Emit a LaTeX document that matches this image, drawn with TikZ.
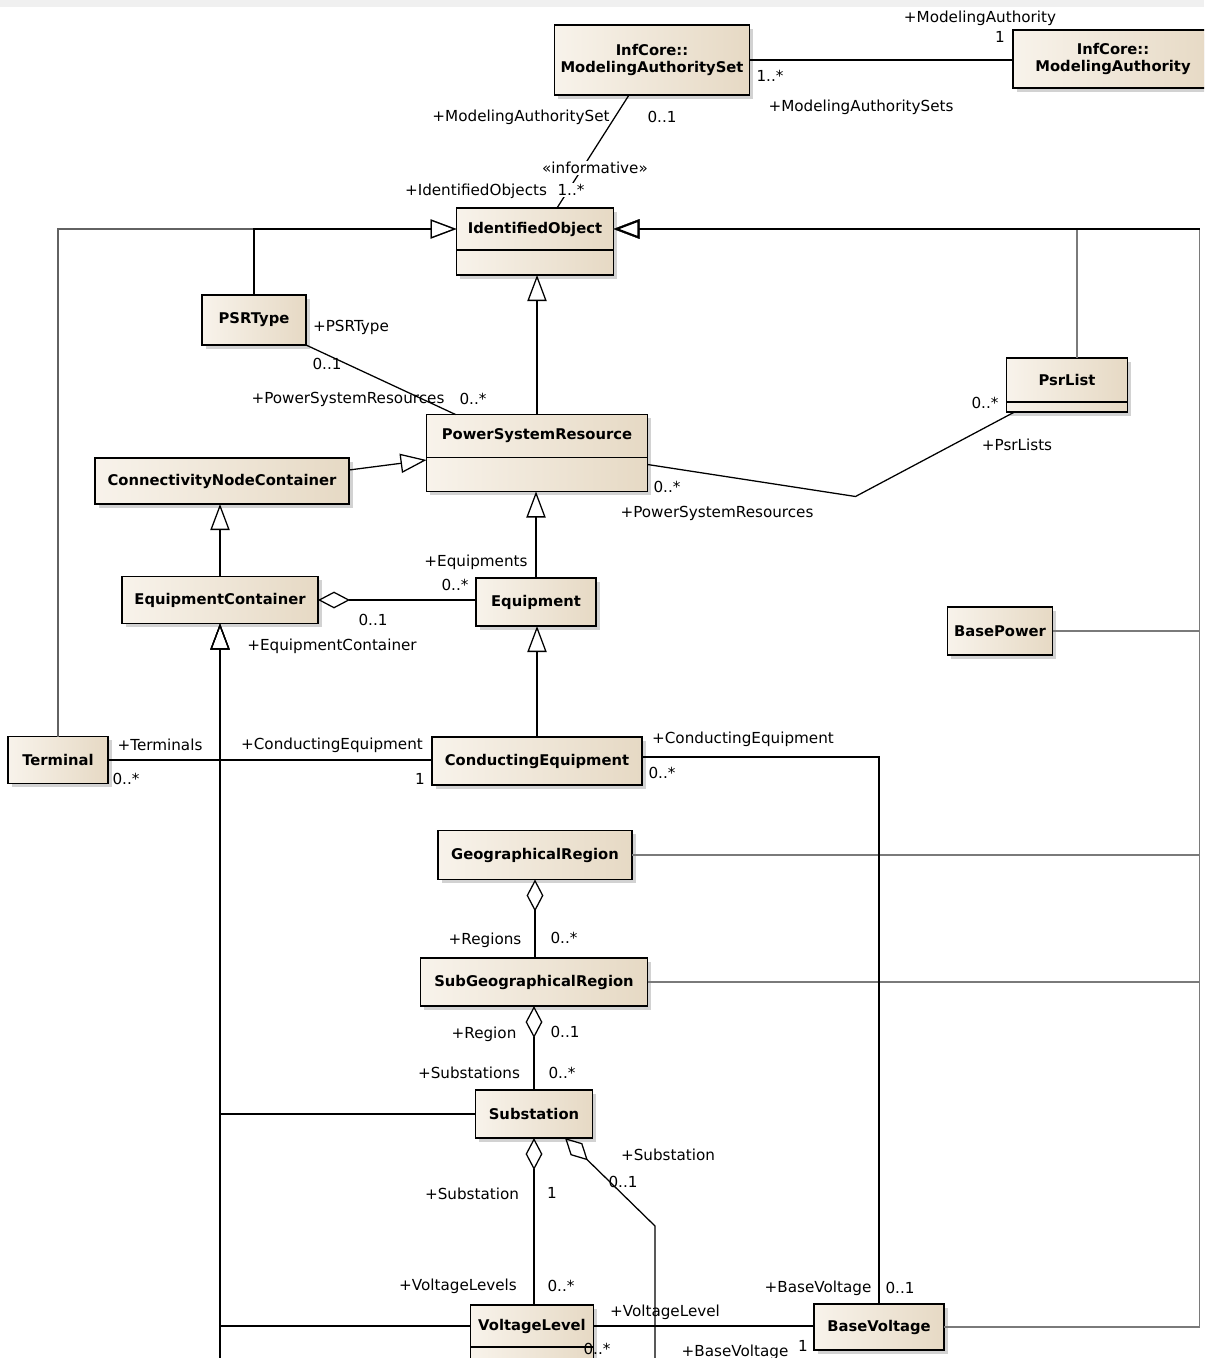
\documentclass[tikz,border=0pt]{standalone}
\usepackage{fontspec}
\setmainfont{DejaVu Sans}
\usetikzlibrary{arrows.meta,positioning,calc,shadows}
\newcommand{\PixelUnit}{0.025cm}
\definecolor{clsLight}{HTML}{F8F3EB}
\definecolor{clsDark}{HTML}{E6D9C4}
\definecolor{busGray}{HTML}{7A7A7A}

\tikzset{
  cls/.style={draw, line width=1.1pt, outer sep=0pt, left color=clsLight, right color=clsDark,
    font=\fontsize{10.5}{12.5}\selectfont\bfseries, align=center, inner sep=2pt,
    drop shadow={shadow xshift=0.09cm, shadow yshift=-0.09cm, opacity=0.35}},
  lbl/.style={font=\fontsize{10.8}{12.5}\selectfont, inner sep=1pt},
  assoc/.style={line width=0.9pt},
  gen/.style={assoc, -{Triangle[open, length=0.65cm, width=0.48cm]}},
  agg/.style={assoc, {Diamond[open, length=0.8cm, width=0.42cm]}-},
  bus/.style={gen, draw=busGray},
}

\begin{document}
\begin{tikzpicture}[x=\PixelUnit, y=-\PixelUnit]
\useasboundingbox (0,0) rectangle (1204,1358);
\clip (0,0) rectangle (1204,1358);
\fill[white] (0,0) rectangle (1204,1358);
\fill[gray!12] (0,0) rectangle (1204,7);

% classes
\node[cls, minimum width=195*\PixelUnit, minimum height=70*\PixelUnit] (mas) at (652,60) {InfCore::\\ModelingAuthoritySet};
\node[cls, minimum width=200*\PixelUnit, minimum height=58*\PixelUnit] (ma) at (1113,59) {InfCore::\\ModelingAuthority};
\node[cls, minimum width=157*\PixelUnit, minimum height=42*\PixelUnit] (io) at (535,229) {IdentifiedObject};
\node[cls, below=0pt of io, minimum width=157*\PixelUnit, minimum height=25*\PixelUnit] (ioA) {};
\node[cls, minimum width=104*\PixelUnit, minimum height=50*\PixelUnit] (psrtype) at (254,320) {PSRType};
\node[cls, minimum width=121*\PixelUnit, minimum height=44*\PixelUnit] (psrlist) at (1067,380) {PsrList};
\node[cls, below=0pt of psrlist, minimum width=121*\PixelUnit, minimum height=10*\PixelUnit] (psrlistA) {};
\node[cls, minimum width=221*\PixelUnit, minimum height=43*\PixelUnit] (psr) at (537,436) {PowerSystemResource};
\node[cls, below=0pt of psr, minimum width=221*\PixelUnit, minimum height=34*\PixelUnit] (psrA) {};
\node[cls, minimum width=254*\PixelUnit, minimum height=46*\PixelUnit] (cnc) at (222,481) {ConnectivityNodeContainer};
\node[cls, minimum width=196*\PixelUnit, minimum height=47*\PixelUnit] (ec) at (220,600) {EquipmentContainer};
\node[cls, minimum width=120*\PixelUnit, minimum height=48*\PixelUnit] (eq) at (536,602) {Equipment};
\node[cls, minimum width=105*\PixelUnit, minimum height=48*\PixelUnit] (bp) at (1000,631) {BasePower};
\node[cls, minimum width=100*\PixelUnit, minimum height=47*\PixelUnit] (term) at (58,760) {Terminal};
\node[cls, minimum width=210*\PixelUnit, minimum height=48*\PixelUnit] (ce) at (537,761) {ConductingEquipment};
\node[cls, minimum width=194*\PixelUnit, minimum height=49*\PixelUnit] (geo) at (535,855) {GeographicalRegion};
\node[cls, minimum width=227*\PixelUnit, minimum height=48*\PixelUnit] (subgeo) at (534,982) {SubGeographicalRegion};
\node[cls, minimum width=117*\PixelUnit, minimum height=48*\PixelUnit] (sub) at (534,1114) {Substation};
\node[cls, minimum width=123*\PixelUnit, minimum height=42*\PixelUnit] (vl) at (532,1326) {VoltageLevel};
\node[cls, below=0pt of vl, minimum width=123*\PixelUnit, minimum height=30*\PixelUnit] (vlA) {};
\node[cls, minimum width=130*\PixelUnit, minimum height=46*\PixelUnit] (bv) at (879,1327) {BaseVoltage};

% modeling authority
\draw[assoc] (mas.east) -- (mas.east -| ma.west);
\draw[assoc] ($(mas.south)+(-23,0)$) -- ($(io.north)+(22,0)$);

% generalizations
\draw[gen, draw=busGray!80!black] (term.north) |- (io.west);
\draw[gen] (psrtype.north) |- (io.west);
\draw[gen] (psr.north) -- (psr.north |- ioA.south);
\draw[gen] ($(cnc.east)+(0,-11)$) -- ($(psr.west)+(0,24)$);
\draw[gen] (ec.north) -- (ec.north |- cnc.south);
\draw[gen] (eq.north) -- (eq.north |- psrA.south);
\draw[gen] (ce.north) -- (ce.north |- eq.south);
\draw[gen] (sub.west) -| (ec.south);
\draw[gen] (vl.west) -| (ec.south);
\draw[gen] (ec.south |- vlA.south) -- (ec.south);

% right side bus
\path (io.east) ++(586,0) coordinate (rb);
\draw[bus] ($(psrlist.north)+(10,0)$) |- (io.east);
\foreach \cls in {bp,geo,subgeo,bv}
\draw[bus] (\cls.east) -| (rb) -- (io.east);
\draw[gen, line width=1.5pt] (rb) -- (io.east);

% associations
\draw[agg] (ec.east) -- (ec.east -| eq.west);
\draw[assoc] (psrtype.south east) -- ($(psr.north west)+(29,0)$);
\draw[assoc] ($(psr.south east)+(0,7)$) -- ++(208,32) -- ($(psrlistA.south west)+(8,0)$);
\draw[assoc] (term.east) -- (term.east -| ce.west);
\draw[assoc] ($(ce.east)+(0,-4)$) -| (bv.north);
\draw[agg] (geo.south) -- (geo.south |- subgeo.north);
\draw[agg] (subgeo.south) -- (subgeo.south |- sub.north);
\draw[agg] (sub.south) -- (sub.south |- vl.north);
\draw[agg] ($(sub.south)+(31,0)$) -- ++(90,88) -- ++(0,150);
\draw[assoc] (vl.east) -- (vl.east -| bv.west);

% role names and multiplicities
\foreach \x/\y/\txt [count=\i] in {
  980/18/+ModelingAuthority, 1000/37/1, 770/76/1..*, 861/107/+ModelingAuthoritySets,
  521/117/+ModelingAuthoritySet, 662/117/0..1, 476/191/+IdentifiedObjects,
  351/327/+PSRType, 327/364/0..1, 348/399/+PowerSystemResources, 473/399/0..*,
  985/403/0..*, 1017/445/+PsrLists, 667/487/0..*, 717/513/+PowerSystemResources,
  476/562/+Equipments, 455/585/0..*, 373/620/0..1, 332/646/+EquipmentContainer,
  160/745/+Terminals, 126/779/0..*, 332/745/+ConductingEquipment, 420/779/1,
  743/739/+ConductingEquipment, 662/773/0..*,
  485/940/+Regions, 564/938/0..*, 484/1034/+Region, 565/1032/0..1,
  469/1073/+Substations, 562/1073/0..*, 472/1194/+Substation, 552/1193/1,
  668/1155/+Substation, 623/1182/0..1, 458/1286/+VoltageLevels, 561/1286/0..*,
  665/1312/+VoltageLevel, 597/1349/0..*, 818/1288/+BaseVoltage, 900/1288/0..1,
  735/1352/+BaseVoltage, 803/1346/1}
\node[lbl] (lbl\i) at (\x,\y) {\txt};

\node[lbl, fill=white] (informative) at (595,168) {«informative»};
\node[lbl, fill=white] (ioMult) at (571,190) {1..*};
\end{tikzpicture}
\end{document}
